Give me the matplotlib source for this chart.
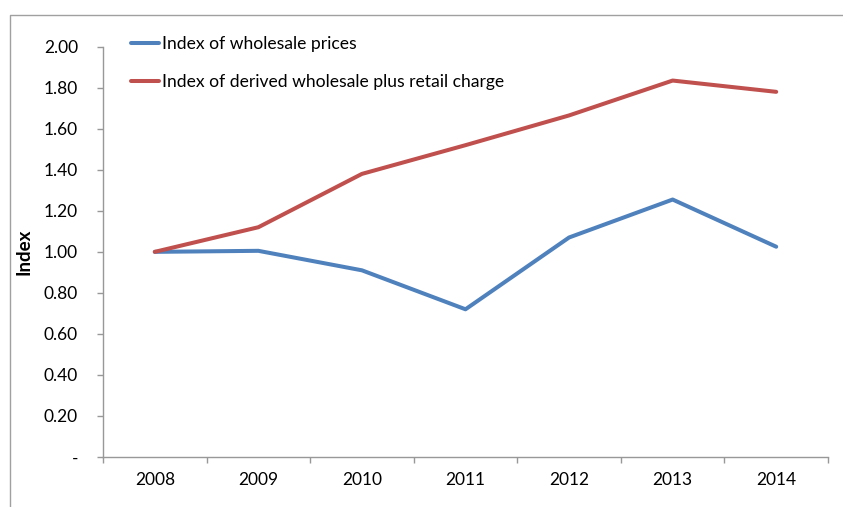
import matplotlib.pyplot as plt
from matplotlib.lines import Line2D

years = ['2008', '2009', '2010', '2011', '2012', '2013', '2014']
wholesale = [1.00, 1.005, 0.91, 0.72, 1.07, 1.255, 1.025]
derived = [1.00, 1.12, 1.38, 1.52, 1.665, 1.835, 1.78]
yticks = [0, 0.2, 0.4, 0.6, 0.8, 1.0, 1.2, 1.4, 1.6, 1.8, 2.0]

plt.rcParams['font.family'] = ['Lato', 'DejaVu Sans']

W, H = 843, 507
fig = plt.figure(figsize=(W / 100, H / 100), dpi=100)
ax = fig.add_axes([103 / W, 1 - 457 / H, 725 / W, (457 - 46.7) / H])

x = list(range(len(years)))
ax.plot(x, wholesale, color='#4F81BD', lw=2.9, solid_capstyle='round',
        label='Index of wholesale prices')
ax.plot(x, derived, color='#C0504D', lw=2.9, solid_capstyle='round',
        label='Index of derived wholesale plus retail charge')

ax.set_xlim(-0.5, len(years) - 0.5)
ax.set_ylim(0, 2.0)
ax.set_yticks(yticks)
ax.set_yticklabels(['-' if v == 0 else '%.2f' % v for v in yticks])

# category labels centred, ticks on category boundaries
ax.set_xticks(x)
ax.set_xticklabels(years)
ax.set_xticks([i - 0.5 for i in range(len(years) + 1)], minor=True)
ax.tick_params(axis='x', which='major', length=0, pad=11, labelsize=12.5)
ax.tick_params(axis='x', which='minor', length=4, width=1, color='#989898')
ax.tick_params(axis='y', length=4, width=1, color='#989898', pad=14, labelsize=12.5)

for s in ['top', 'right']:
    ax.spines[s].set_visible(False)
for s in ['left', 'bottom']:
    ax.spines[s].set_color('#989898')
    ax.spines[s].set_linewidth(1)

ax.set_ylabel('Index', fontsize=13.5, fontweight='bold', labelpad=8)

ax.legend(loc='upper left', bbox_to_anchor=(122 / W, 1 - 27 / H),
          bbox_transform=fig.transFigure, frameon=False, fontsize=12.6,
          borderpad=0, handlelength=1.6, handletextpad=0.2, labelspacing=1.3)

# outer chart frame (cropped on right and bottom)
fig.add_artist(Line2D([9.5 / W, 9.5 / W, 1], [0, 1 - 15 / H, 1 - 15 / H],
                      transform=fig.transFigure, color='#a0a0a0', lw=1))

fig.savefig('out.png', dpi=100)
